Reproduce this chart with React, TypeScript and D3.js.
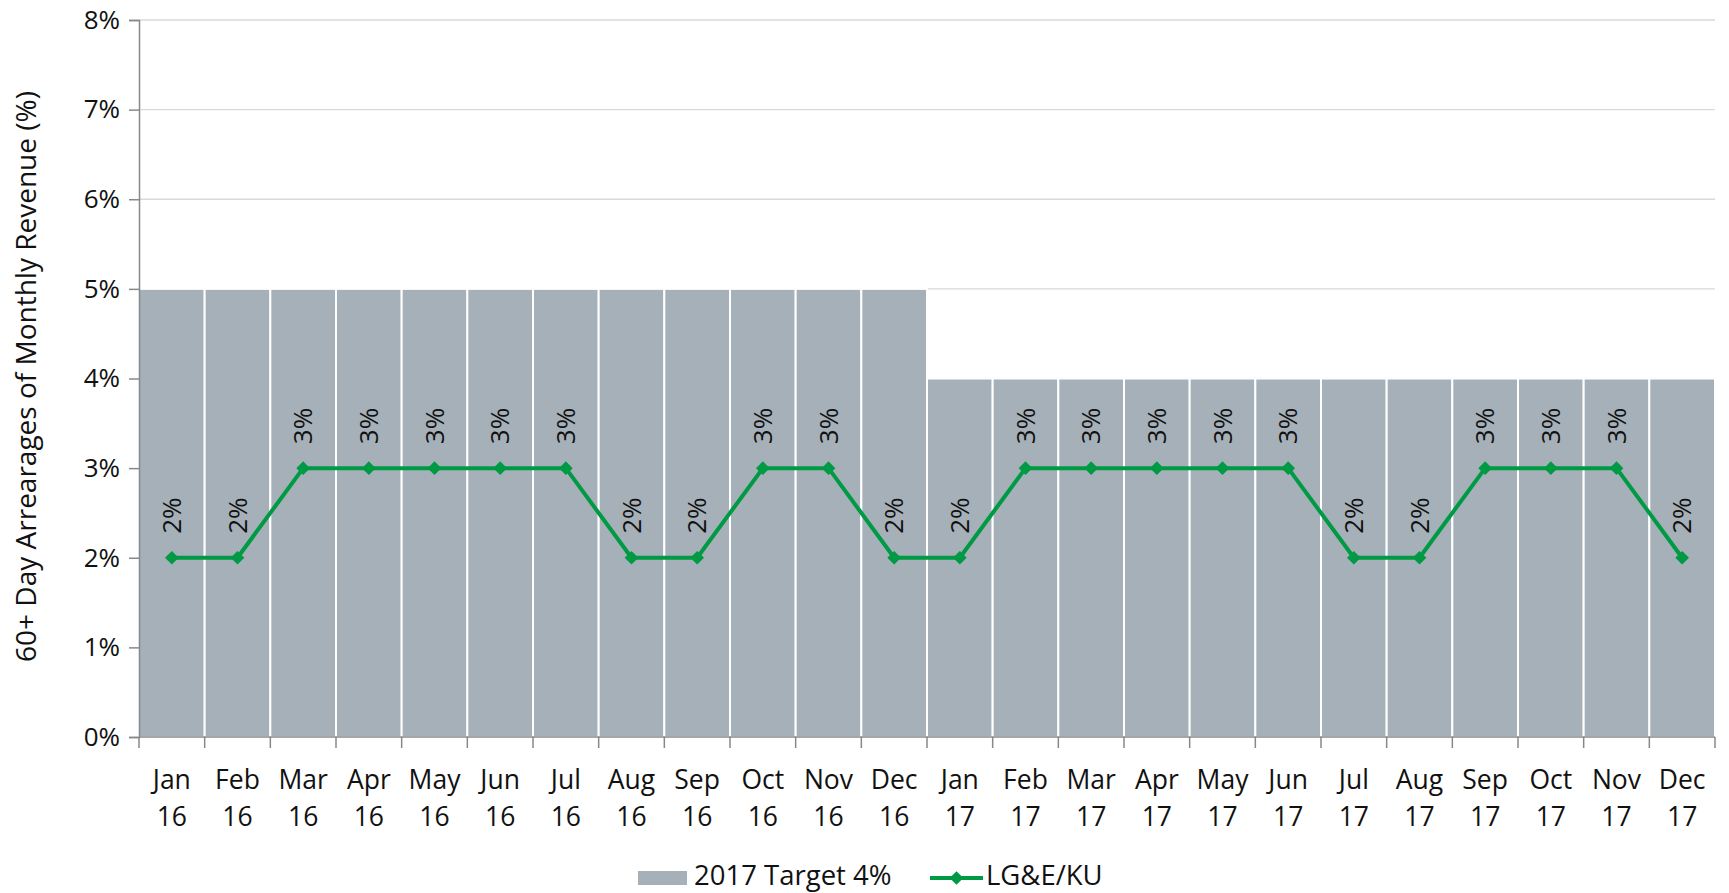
import React, { useEffect, useRef } from 'react';
import * as d3 from 'd3';

const months = ['Jan', 'Feb', 'Mar', 'Apr', 'May', 'Jun', 'Jul', 'Aug', 'Sep', 'Oct', 'Nov', 'Dec',
  'Jan', 'Feb', 'Mar', 'Apr', 'May', 'Jun', 'Jul', 'Aug', 'Sep', 'Oct', 'Nov', 'Dec'];
const years = ['16', '16', '16', '16', '16', '16', '16', '16', '16', '16', '16', '16',
  '17', '17', '17', '17', '17', '17', '17', '17', '17', '17', '17', '17'];
const targetValues = [5, 5, 5, 5, 5, 5, 5, 5, 5, 5, 5, 5, 4, 4, 4, 4, 4, 4, 4, 4, 4, 4, 4, 4];
const lgekuValues = [2, 2, 3, 3, 3, 3, 3, 2, 2, 3, 3, 2, 2, 3, 3, 3, 3, 3, 2, 2, 3, 3, 3, 2];
const yTicks = [0, 1, 2, 3, 4, 5, 6, 7, 8];

const FONT = '"Open Sans", sans-serif';
const BAR = '#a5b0b8';
const GREEN = '#009a44';

const App = () => {
  const svgRef = useRef<SVGSVGElement>(null);

  useEffect(() => {
    const W = 1729, H = 893;
    const margin = { top: 20, right: 14, bottom: 156, left: 139 };
    const width = W - margin.left - margin.right;
    const height = H - margin.top - margin.bottom;

    d3.select(svgRef.current).selectAll('*').remove();
    const root = d3.select(svgRef.current).attr('width', W).attr('height', H);
    const svg = root.append('g').attr('transform', `translate(${margin.left},${margin.top})`);

    const keys = months.map((m, i) => `${m} ${years[i]} ${i}`);
    const x = d3.scaleBand().domain(keys).range([0, width]).padding(0);
    const y = d3.scaleLinear().domain([0, 8]).range([height, 0]);

    // gridlines
    svg.append('g')
      .selectAll('line')
      .data(yTicks.filter(t => t > 0))
      .enter()
      .append('line')
        .attr('x1', 0).attr('x2', width)
        .attr('y1', d => y(d)).attr('y2', d => y(d))
        .attr('stroke', '#d9d9d9').attr('stroke-width', 1.3);

    // target bars
    svg.append('g')
      .selectAll('rect')
      .data(targetValues)
      .enter()
      .append('rect')
        .attr('x', (d, i) => x(keys[i])!)
        .attr('y', d => y(d))
        .attr('width', x.bandwidth())
        .attr('height', d => height - y(d))
        .attr('fill', BAR)
        .attr('stroke', '#fff')
        .attr('stroke-width', 2);

    // y axis
    const yAxis = svg.append('g')
      .call(d3.axisLeft(y).tickValues(yTicks).tickFormat(d => `${d}%`).tickSize(10).tickPadding(9));
    yAxis.select('.domain').attr('stroke', '#888').attr('stroke-width', 1.5);
    yAxis.selectAll('.tick line').attr('stroke', '#888').attr('stroke-width', 1.5);
    yAxis.selectAll('.tick text')
      .style('font-family', FONT).style('font-size', '26px').attr('fill', '#111');

    // x axis
    const xAxis = svg.append('g').attr('transform', `translate(0,${height})`);
    xAxis.append('line')
      .attr('x1', 0).attr('x2', width).attr('stroke', '#888').attr('stroke-width', 1.5);
    const edges = d3.range(keys.length + 1).map(i => i * x.step());
    xAxis.selectAll('.xtick')
      .data(edges)
      .enter()
      .append('line')
        .attr('x1', d => d).attr('x2', d => d)
        .attr('y1', 0).attr('y2', 11)
        .attr('stroke', '#888').attr('stroke-width', 1.5);
    const xLabels = xAxis.selectAll('.xlabel')
      .data(keys)
      .enter()
      .append('text')
        .attr('x', d => x(d)! + x.bandwidth() / 2)
        .attr('text-anchor', 'middle')
        .style('font-family', FONT).style('font-size', '26.5px').attr('fill', '#111');
    xLabels.append('tspan').attr('x', d => x(d)! + x.bandwidth() / 2).attr('y', 52)
      .text((d, i) => months[i]);
    xLabels.append('tspan').attr('x', d => x(d)! + x.bandwidth() / 2).attr('y', 89)
      .text((d, i) => years[i]);

    // line series
    const line = d3.line<number>()
      .x((d, i) => x(keys[i])! + x.bandwidth() / 2)
      .y(d => y(d));
    svg.append('path')
      .datum(lgekuValues)
      .attr('d', line)
      .attr('fill', 'none')
      .attr('stroke', GREEN)
      .attr('stroke-width', 4);

    const diamond = d3.symbol().type(d3.symbolDiamond2).size(120);
    svg.selectAll('.marker')
      .data(lgekuValues)
      .enter()
      .append('path')
        .attr('d', diamond)
        .attr('transform', (d, i) => `translate(${x(keys[i])! + x.bandwidth() / 2},${y(d)})`)
        .attr('fill', GREEN);

    // data labels
    svg.selectAll('.label')
      .data(lgekuValues)
      .enter()
      .append('text')
        .attr('transform', (d, i) => `translate(${x(keys[i])! + x.bandwidth() / 2},${y(d) - 24}) rotate(-90)`)
        .attr('dy', '0.35em')
        .attr('text-anchor', 'start')
        .style('font-family', FONT).style('font-size', '26px').attr('fill', '#111')
        .text(d => `${d}%`);

    // y axis title
    root.append('text')
      .attr('transform', `translate(26,${margin.top + height / 2 - 2}) rotate(-90)`)
      .attr('dy', '0.35em')
      .attr('text-anchor', 'middle')
      .style('font-family', FONT).style('font-size', '28px').attr('fill', '#111')
      .text('60+ Day Arrearages of Monthly Revenue (%)');

    // legend
    const legend = root.append('g').attr('transform', 'translate(638,878)');
    legend.append('rect')
      .attr('x', 0).attr('y', -7).attr('width', 49).attr('height', 14).attr('fill', BAR);
    legend.append('text')
      .attr('x', 56).attr('y', 7)
      .style('font-family', FONT).style('font-size', '27.5px').attr('fill', '#111')
      .text('2017 Target 4%');
    legend.append('line')
      .attr('x1', 292).attr('x2', 345).attr('y1', 0).attr('y2', 0)
      .attr('stroke', GREEN).attr('stroke-width', 4);
    legend.append('path')
      .attr('d', diamond)
      .attr('transform', 'translate(318.5,0)')
      .attr('fill', GREEN);
    legend.append('text')
      .attr('x', 348).attr('y', 7)
      .style('font-family', FONT).style('font-size', '27.5px').attr('fill', '#111')
      .text('LG&E/KU');
  }, []);

  return (
    <svg ref={svgRef} style={{ position: 'absolute', left: 0, top: 0, display: 'block' }}></svg>
  );
};

export default App;
